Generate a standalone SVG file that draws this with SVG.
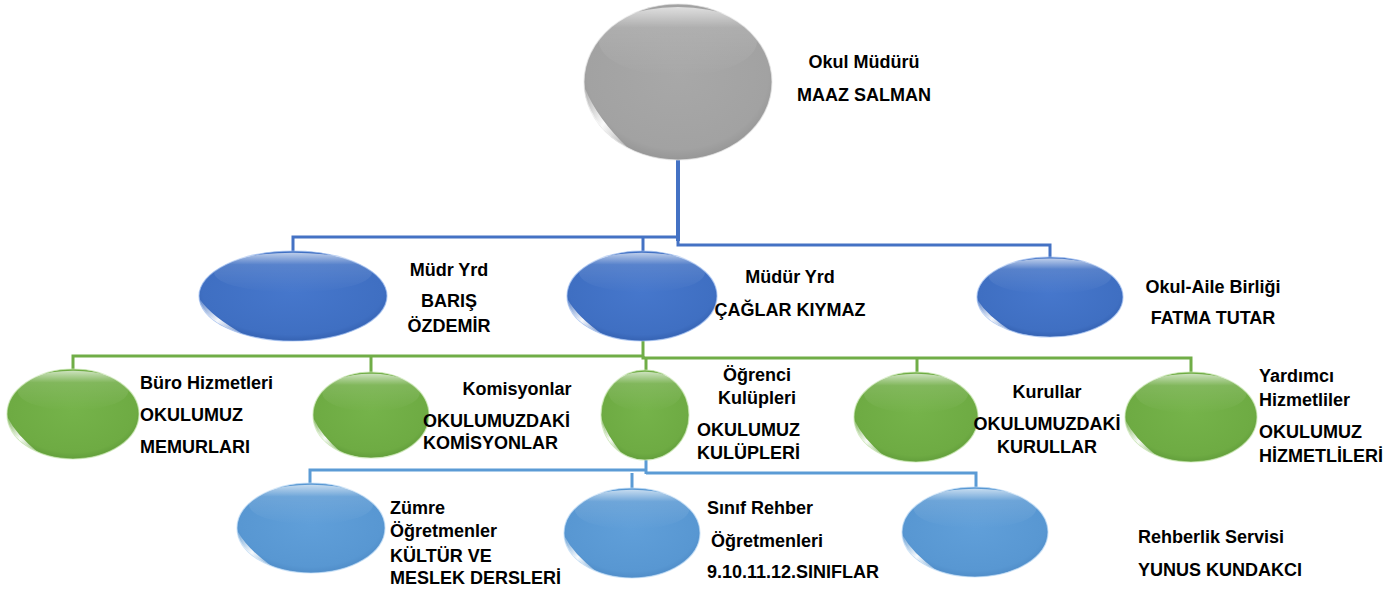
<svg xmlns="http://www.w3.org/2000/svg" xmlns:xlink="http://www.w3.org/1999/xlink" width="1398" height="592" viewBox="0 0 1398 592">
<style>
.t{font-family:"Liberation Sans",Arial,sans-serif;font-weight:bold;font-size:18px;fill:#000}
.c{text-anchor:middle}
.grey{fill:url(#gGrey);stroke:#e6e6e6;stroke-opacity:.7;stroke-width:1.2}
.blue{fill:url(#gBlue);stroke:#9dbcf0;stroke-opacity:.7;stroke-width:1.2}
.green{fill:url(#gGreen);stroke:#c6e6ae;stroke-opacity:.7;stroke-width:1.2}
.lblue{fill:url(#gLBlue);stroke:#bcdaf5;stroke-opacity:.7;stroke-width:1.2}
.cb{fill:none;stroke:#4472C4;stroke-width:3}
.cg{fill:none;stroke:#70AD47;stroke-width:3}
.cl{fill:none;stroke:#5B9BD5;stroke-width:3}
</style>
<defs>
<radialGradient id="gGrey" cx="50%" cy="45%" r="60%"><stop offset="0" stop-color="#a8a8a8"/><stop offset="0.8" stop-color="#a2a2a2"/><stop offset="1" stop-color="#8e8e8e"/></radialGradient>
<radialGradient id="gBlue" cx="50%" cy="45%" r="60%"><stop offset="0" stop-color="#4677cc"/><stop offset="0.8" stop-color="#3f6fc2"/><stop offset="1" stop-color="#2f5aa8"/></radialGradient>
<radialGradient id="gGreen" cx="50%" cy="45%" r="60%"><stop offset="0" stop-color="#75b34a"/><stop offset="0.8" stop-color="#6eab43"/><stop offset="1" stop-color="#5b9636"/></radialGradient>
<radialGradient id="gLBlue" cx="50%" cy="45%" r="60%"><stop offset="0" stop-color="#609fd9"/><stop offset="0.8" stop-color="#5897d2"/><stop offset="1" stop-color="#4a86c2"/></radialGradient>
<linearGradient id="hiTop" x1="0" y1="0" x2="0" y2="1"><stop offset="0" stop-color="#fff" stop-opacity="0.65"/><stop offset="0.3" stop-color="#fff" stop-opacity="0.12"/><stop offset="1" stop-color="#fff" stop-opacity="0"/></linearGradient>
<linearGradient id="hiLow" x1="0" y1="0" x2="1" y2="1"><stop offset="0" stop-color="#fff" stop-opacity="0.2"/><stop offset="0.5" stop-color="#fff" stop-opacity="0.95"/><stop offset="1" stop-color="#fff" stop-opacity="0.2"/></linearGradient>
<g id="gloss">
<ellipse cx="0" cy="-0.52" rx="0.84" ry="0.44" fill="url(#hiTop)"/>
<path d="M-0.99,0.08 Q-0.97,0.55 -0.52,0.86 Q-0.86,0.47 -0.99,0.08 Z" fill="url(#hiLow)"/>
</g>
</defs>
<rect width="1398" height="592" fill="#fff"/>

<g id="connectors">
<path class="cb" d="M678,237 V245 H1050 V258"/>
<path class="cb" d="M678,160 V241" style="stroke-width:4"/>
<path class="cb" d="M678,237 H293 V251"/>
<path class="cb" d="M643,237 V251"/>
<path class="cg" d="M643,340 V356 H73 V369"/>
<path class="cg" d="M371,356 V373"/>
<path class="cg" d="M643,356 V358 H1191 V372"/>
<path class="cg" d="M646,358 V370"/>
<path class="cg" d="M917,358 V372"/>
<path class="cl" d="M646,460 V474"/>
<path class="cl" d="M646,470 H310 V484"/>
<path class="cl" d="M646,473 H976 V487"/>
<path class="cl" d="M632,473 V488"/>
</g>

<g id="node-okul-muduru">
<ellipse class="grey" cx="678" cy="82" rx="94" ry="78"/>
<use href="#gloss" transform="translate(678 82) scale(94 78)"/>
<text class="t c" x="864" y="68">Okul Müdürü</text>
<text class="t c" x="864" y="101">MAAZ SALMAN</text>
</g>

<g id="node-mudr-yrd-baris">
<ellipse class="blue" cx="293" cy="296" rx="94" ry="45"/>
<use href="#gloss" transform="translate(293 296) scale(94 45)"/>
<text class="t c" x="449" y="276">Müdr Yrd</text>
<text class="t c" x="449" y="307">BARIŞ</text>
<text class="t c" x="449" y="332">ÖZDEMİR</text>
</g>

<g id="node-mudur-yrd-caglar">
<ellipse class="blue" cx="642" cy="296" rx="75" ry="45"/>
<use href="#gloss" transform="translate(642 296) scale(75 45)"/>
<text class="t c" x="790" y="283">Müdür Yrd</text>
<text class="t c" x="790" y="316">ÇAĞLAR KIYMAZ</text>
</g>

<g id="node-okul-aile">
<ellipse class="blue" cx="1050" cy="297" rx="73" ry="40"/>
<use href="#gloss" transform="translate(1050 297) scale(73 40)"/>
<text class="t c" x="1213" y="293">Okul-Aile Birliği</text>
<text class="t c" x="1213" y="324">FATMA TUTAR</text>
</g>

<g id="node-buro">
<ellipse class="green" cx="73" cy="414" rx="66" ry="45"/>
<use href="#gloss" transform="translate(73 414) scale(66 45)"/>
<text class="t" x="140" y="389">Büro Hizmetleri</text>
<text class="t" x="140" y="421">OKULUMUZ</text>
<text class="t" x="140" y="453">MEMURLARI</text>
</g>

<g id="node-komisyonlar">
<ellipse class="green" cx="371" cy="415" rx="58" ry="43"/>
<use href="#gloss" transform="translate(371 415) scale(58 43)"/>
<text class="t c" x="517" y="395">Komisyonlar</text>
<text class="t" x="423" y="427">OKULUMUZDAKİ</text>
<text class="t" x="423" y="449">KOMİSYONLAR</text>
</g>

<g id="node-ogrenci-kulupleri">
<ellipse class="green" cx="645" cy="415" rx="44" ry="45"/>
<use href="#gloss" transform="translate(645 415) scale(44 45)"/>
<text class="t c" x="757" y="381">Öğrenci</text>
<text class="t c" x="757" y="404">Kulüpleri</text>
<text class="t" x="697" y="436">OKULUMUZ</text>
<text class="t" x="697" y="459">KULÜPLERİ</text>
</g>

<g id="node-kurullar">
<ellipse class="green" cx="916" cy="417" rx="62" ry="45"/>
<use href="#gloss" transform="translate(916 417) scale(62 45)"/>
<text class="t c" x="1047" y="398">Kurullar</text>
<text class="t c" x="1047" y="430">OKULUMUZDAKİ</text>
<text class="t c" x="1047" y="453">KURULLAR</text>
</g>

<g id="node-yardimci">
<ellipse class="green" cx="1191" cy="417" rx="66" ry="45"/>
<use href="#gloss" transform="translate(1191 417) scale(66 45)"/>
<text class="t" x="1259" y="382">Yardımcı</text>
<text class="t" x="1259" y="406">Hizmetliler</text>
<text class="t" x="1259" y="438">OKULUMUZ</text>
<text class="t" x="1259" y="462">HİZMETLİLERİ</text>
</g>

<g id="node-zumre">
<ellipse class="lblue" cx="311" cy="528" rx="74" ry="45"/>
<use href="#gloss" transform="translate(311 528) scale(74 45)"/>
<text class="t" x="390" y="514">Zümre</text>
<text class="t" x="390" y="537">Öğretmenler</text>
<text class="t" x="390" y="562">KÜLTÜR VE</text>
<text class="t" x="390" y="584">MESLEK DERSLERİ</text>
</g>

<g id="node-sinif-rehber">
<ellipse class="lblue" cx="632" cy="533" rx="68" ry="45"/>
<use href="#gloss" transform="translate(632 533) scale(68 45)"/>
<text class="t" x="707" y="514">Sınıf Rehber</text>
<text class="t" x="711" y="547">Öğretmenleri</text>
<text class="t" x="707" y="578">9.10.11.12.SINIFLAR</text>
</g>

<g id="node-rehberlik">
<ellipse class="lblue" cx="975" cy="532" rx="73" ry="45"/>
<use href="#gloss" transform="translate(975 532) scale(73 45)"/>
<text class="t" x="1138" y="543">Rehberlik Servisi</text>
<text class="t" x="1138" y="576">YUNUS KUNDAKCI</text>
</g>
</svg>
